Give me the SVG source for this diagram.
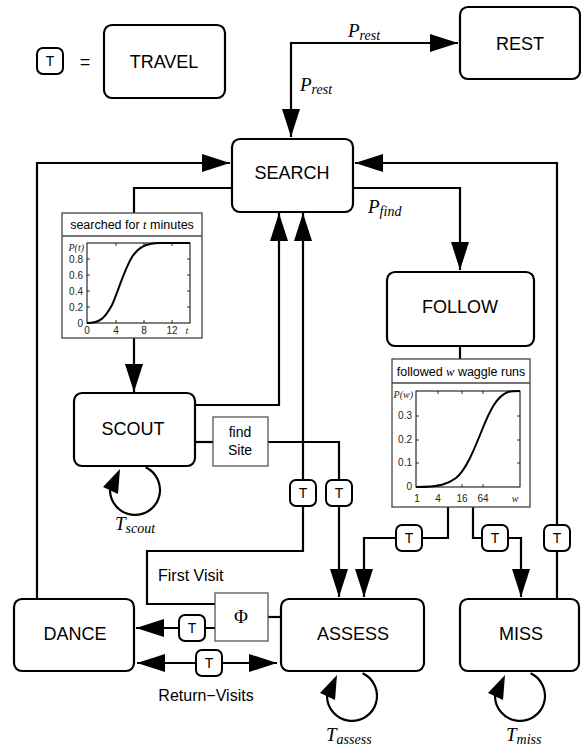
<svg xmlns="http://www.w3.org/2000/svg" width="581" height="749" viewBox="0 0 581 749">
  <style>
    .node { fill: #fff; stroke: #000; stroke-width: 2.2; }
    .lbl { font-family: "Liberation Sans", Arial, sans-serif; font-size: 18px; fill: #000; text-anchor: middle; }
    .tbox { fill: #fff; stroke: #000; stroke-width: 2; }
    .tlbl { font-family: "Liberation Sans", Arial, sans-serif; font-size: 14px; fill: #000; text-anchor: middle; }
    .wire { fill: none; stroke: #000; stroke-width: 2.2; }
    .arr { marker-end: url(#ah); }
    .math { font-family: "Liberation Serif", "Times New Roman", serif; font-style: italic; font-size: 19px; fill: #000; }
    .sub { font-size: 14px; }
    .note { font-family: "Liberation Sans", Arial, sans-serif; font-size: 16px; fill: #000; }
    .small { fill: #fff; stroke: #555; stroke-width: 1.3; }
    .panel { fill: #fff; stroke: #444; stroke-width: 1.3; }
    .frame { fill: none; stroke: #000; stroke-width: 1; }
    .tick { font-family: "Liberation Sans", Arial, sans-serif; font-size: 10px; fill: #222; }
    .tk { stroke: #000; stroke-width: 0.8; }
    .curve { fill: none; stroke: #000; stroke-width: 2; }
    .hdr { font-family: "Liberation Sans", Arial, sans-serif; font-size: 12.5px; fill: #000; text-anchor: middle; }
    .ital { font-family: "Liberation Serif", "Times New Roman", serif; font-style: italic; }
  </style>
  <defs>
    <marker id="ah" markerUnits="userSpaceOnUse" markerWidth="28" markerHeight="18" refX="28" refY="9" orient="auto-start-reverse">
      <path d="M0,0 L28,9 L0,18 Z" fill="#000"/>
    </marker>
    <g id="tnode">
      <rect x="-13" y="-13" width="26" height="26" rx="6" class="tbox"/>
      <text x="0" y="5" class="tlbl">T</text>
    </g>
  </defs>

  <!-- legend -->
  <g id="legend">
    <use href="#tnode" x="50" y="61"/>
    <text x="85" y="68" class="lbl" font-size="20">=</text>
  </g>
  <g id="travel">
    <rect x="104" y="25" width="121" height="73" rx="8" class="node"/>
    <text x="164" y="68" class="lbl">TRAVEL</text>
  </g>

  <!-- connectors -->
  <g id="connectors">
    <!-- search <-> rest -->
    <path d="M458,43 H291 V137" class="wire" marker-start="url(#ah)" marker-end="url(#ah)"/>
    <!-- dance back to search -->
    <path d="M37,599 V163 H230" class="wire arr"/>
    <!-- miss back to search -->
    <path d="M557,599 V163 H355" class="wire arr"/>
    <!-- search timer to scout -->
    <path d="M232,188 H134 V213" class="wire"/>
    <path d="M134,338 V392" class="wire arr"/>
    <!-- scout back to search -->
    <path d="M195,405 H279 V213" class="wire arr"/>
    <!-- scout to find site to assess -->
    <path d="M195,442 H213" class="wire"/>
    <path d="M268,442 H339 V597" class="wire arr"/>
    <!-- first visit back to search -->
    <path d="M215,604 H147 V551 H303 V213" class="wire arr"/>
    <!-- phi to assess -->
    <path d="M268,617 H281" class="wire"/>
    <!-- phi to dance -->
    <path d="M215,628 H136" class="wire arr"/>
    <!-- return visits -->
    <path d="M137,663 H277" class="wire" marker-start="url(#ah)" marker-end="url(#ah)"/>
    <!-- search to follow -->
    <path d="M353,188 H460 V270" class="wire arr"/>
    <path d="M460,346 V359" class="wire"/>
    <!-- follow timer to assess / miss -->
    <path d="M448,507 V538 H364 V597" class="wire arr"/>
    <path d="M473,507 V538 H521 V597" class="wire arr"/>
    <!-- self loops -->
    <path d="M145.6,467.3 A25,25 0 1 1 110,490" class="wire"/>
    <path d="M103,487 L120,469 L118,494 Z" fill="#000"/>
    <path d="M362.6,673.3 A25,25 0 1 1 327,696" class="wire"/>
    <path d="M320,693 L337,675 L335,700 Z" fill="#000"/>
    <path d="M530.6,673.3 A25,25 0 1 1 495,696" class="wire"/>
    <path d="M488,693 L505,675 L503,700 Z" fill="#000"/>
    <!-- travel markers -->
    <use href="#tnode" x="303" y="493"/>
    <use href="#tnode" x="339" y="493"/>
    <use href="#tnode" x="409" y="538"/>
    <use href="#tnode" x="495" y="538"/>
    <use href="#tnode" x="557" y="538"/>
    <use href="#tnode" x="192" y="628"/>
    <use href="#tnode" x="209" y="663"/>
  </g>

  <!-- edge labels -->
  <g id="edge-labels">
    <text x="348" y="37" class="math">P<tspan class="sub" dy="3">rest</tspan></text>
    <text x="300" y="91" class="math">P<tspan class="sub" dy="3">rest</tspan></text>
    <text x="368" y="213" class="math">P<tspan class="sub" dy="3">find</tspan></text>
    <text x="115" y="530" class="math">T<tspan class="sub" dy="3">scout</tspan></text>
    <text x="326" y="741" class="math">T<tspan class="sub" dy="3">assess</tspan></text>
    <text x="506" y="741" class="math">T<tspan class="sub" dy="3">miss</tspan></text>
    <text x="158" y="581" class="note">First Visit</text>
    <text x="206" y="701" class="note" text-anchor="middle">Return−Visits</text>
  </g>

  <g id="rest">
    <rect x="460" y="7" width="120" height="72" rx="8" class="node"/>
    <text x="520" y="50" class="lbl">REST</text>
  </g>
  <g id="search">
    <rect x="232" y="139" width="121" height="73" rx="8" class="node"/>
    <text x="292" y="179" class="lbl">SEARCH</text>
  </g>
  <g id="follow">
    <rect x="387" y="272" width="147" height="74" rx="8" class="node"/>
    <text x="460" y="313" class="lbl">FOLLOW</text>
  </g>
  <g id="scout">
    <rect x="74" y="393" width="121" height="73" rx="8" class="node"/>
    <text x="133" y="435" class="lbl">SCOUT</text>
  </g>
  <g id="find-site">
    <rect x="213" y="417" width="55" height="49" class="small"/>
    <text x="240" y="437" class="tlbl" font-size="15">find</text>
    <text x="240" y="455" class="tlbl" font-size="15">Site</text>
  </g>
  <g id="phi">
    <rect x="215" y="593" width="53" height="48" class="small" stroke="#777"/>
    <text x="241" y="623" font-family="Liberation Serif, serif" font-size="19" text-anchor="middle">Φ</text>
  </g>
  <g id="dance">
    <rect x="14" y="599" width="120" height="72" rx="8" class="node"/>
    <text x="75" y="640" class="lbl">DANCE</text>
  </g>
  <g id="assess">
    <rect x="281" y="599" width="143" height="72" rx="8" class="node"/>
    <text x="353" y="640" class="lbl">ASSESS</text>
  </g>
  <g id="miss">
    <rect x="460" y="599" width="119" height="72" rx="8" class="node"/>
    <text x="521" y="640" class="lbl">MISS</text>
  </g>

  <!-- search duration panel -->
  <g id="search-timer">
    <rect x="62" y="213" width="140" height="125" class="panel"/>
    <line x1="62" y1="236" x2="202" y2="236" stroke="#444" stroke-width="1.3"/>
    <text x="132" y="229" class="hdr" font-size="12">searched for <tspan class="ital">t</tspan> minutes</text>
    <rect x="87" y="243" width="103" height="80" class="frame"/>
    <g class="tk">
      <line x1="87" y1="259" x2="90" y2="259"/><line x1="87" y1="275" x2="90" y2="275"/>
      <line x1="87" y1="291" x2="90" y2="291"/><line x1="87" y1="307" x2="90" y2="307"/>
      <line x1="190" y1="259" x2="187" y2="259"/><line x1="190" y1="275" x2="187" y2="275"/>
      <line x1="190" y1="291" x2="187" y2="291"/><line x1="190" y1="307" x2="187" y2="307"/>
      <line x1="116" y1="323" x2="116" y2="320"/><line x1="144" y1="323" x2="144" y2="320"/>
      <line x1="172" y1="323" x2="172" y2="320"/>
      <line x1="116" y1="243" x2="116" y2="246"/><line x1="144" y1="243" x2="144" y2="246"/>
      <line x1="172" y1="243" x2="172" y2="246"/>
    </g>
    <text x="84" y="251" class="tick ital" font-size="9.5" text-anchor="end">P(t)</text>
    <text x="83" y="263" class="tick" text-anchor="end">0.8</text>
    <text x="83" y="279" class="tick" text-anchor="end">0.6</text>
    <text x="83" y="295" class="tick" text-anchor="end">0.4</text>
    <text x="83" y="311" class="tick" text-anchor="end">0.2</text>
    <text x="83" y="327" class="tick" text-anchor="end">0</text>
    <text x="87" y="334" class="tick" text-anchor="middle">0</text>
    <text x="116" y="334" class="tick" text-anchor="middle">4</text>
    <text x="144" y="334" class="tick" text-anchor="middle">8</text>
    <text x="172" y="334" class="tick" text-anchor="middle">12</text>
    <text x="187" y="334" class="tick ital" text-anchor="middle">t</text>
    <path d="M87,323 C100,323 105,318 112,305 C118,292 124,270 132,257 C138,248 145,243 160,243 H190" class="curve"/>
  </g>

  <!-- waggle-run panel -->
  <g id="follow-timer">
    <rect x="392" y="359" width="138" height="148" class="panel"/>
    <line x1="392" y1="383" x2="530" y2="383" stroke="#444" stroke-width="1.3"/>
    <text x="461" y="376" class="hdr">followed <tspan class="ital">w</tspan> waggle runs</text>
    <rect x="416" y="391" width="104" height="96" class="frame"/>
    <g class="tk">
      <line x1="416" y1="416" x2="419" y2="416"/><line x1="416" y1="440" x2="419" y2="440"/>
      <line x1="416" y1="463" x2="419" y2="463"/>
      <line x1="520" y1="416" x2="517" y2="416"/><line x1="520" y1="440" x2="517" y2="440"/>
      <line x1="520" y1="463" x2="517" y2="463"/>
      <line x1="438" y1="487" x2="438" y2="484"/><line x1="462" y1="487" x2="462" y2="484"/>
      <line x1="483" y1="487" x2="483" y2="484"/>
      <line x1="438" y1="391" x2="438" y2="394"/><line x1="462" y1="391" x2="462" y2="394"/>
      <line x1="483" y1="391" x2="483" y2="394"/>
    </g>
    <text x="413" y="398" class="tick ital" text-anchor="end">P(w)</text>
    <text x="412" y="419" class="tick" text-anchor="end">0.3</text>
    <text x="412" y="443" class="tick" text-anchor="end">0.2</text>
    <text x="412" y="466" class="tick" text-anchor="end">0.1</text>
    <text x="412" y="490" class="tick" text-anchor="end">0</text>
    <text x="417" y="502" class="tick" text-anchor="middle">1</text>
    <text x="438" y="502" class="tick" text-anchor="middle">4</text>
    <text x="462" y="502" class="tick" text-anchor="middle">16</text>
    <text x="483" y="502" class="tick" text-anchor="middle">64</text>
    <text x="515" y="502" class="tick ital" text-anchor="middle">w</text>
    <path d="M416,487 C440,487 448,484 456,478 C466,470 474,450 482,430 C490,410 497,396 508,392 C512,391 516,391 520,391" class="curve"/>
  </g>
</svg>
